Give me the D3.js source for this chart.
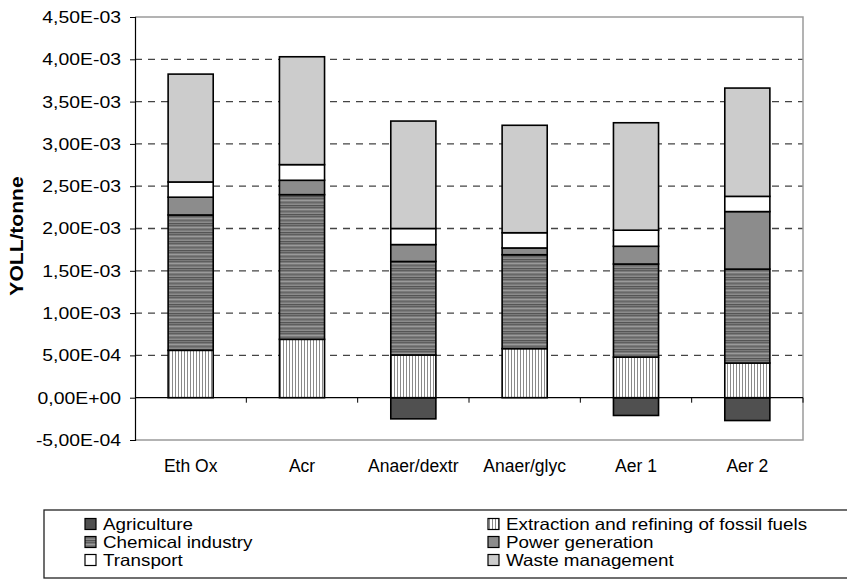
<!DOCTYPE html>
<html><head><meta charset="utf-8">
<script src="https://cdn.jsdelivr.net/npm/d3@7"></script>
<style>
body{margin:0;background:#fff;}
svg{display:block;font-family:"Liberation Sans",Arial,sans-serif;}
</style></head><body>
<svg id="chart" width="847" height="580"></svg>
<script>
const categories = ["Eth Ox","Acr","Anaer/dextr","Anaer/glyc","Aer 1","Aer 2"];
const agriculture = [0, 0, -2.5e-4, 0, -2.1e-4, -2.7e-4];
const extraction  = [5.6e-4, 6.9e-4, 5.05e-4, 5.8e-4, 4.8e-4, 4.1e-4];
const chemical    = [1.60e-3, 1.71e-3, 1.105e-3, 1.11e-3, 1.10e-3, 1.11e-3];
const power       = [2.1e-4, 1.7e-4, 2.0e-4, 8e-5, 2.1e-4, 6.8e-4];
const transport   = [1.8e-4, 1.85e-4, 1.9e-4, 1.8e-4, 1.9e-4, 1.8e-4];
const waste       = [1.275e-3, 1.275e-3, 1.27e-3, 1.27e-3, 1.27e-3, 1.28e-3];
const seriesNames = ["Agriculture","Extraction and refining of fossil fuels","Chemical industry","Power generation","Transport","Waste management"];
const yTicks = [-5e-4,0,5e-4,1e-3,1.5e-3,2e-3,2.5e-3,3e-3,3.5e-3,4e-3,4.5e-3];
const yLabel = "YOLL/tonne";

const svg = d3.select("#chart");
const defs = svg.append("defs");

// patterns
const pExt = defs.append("pattern").attr("id","pExt").attr("patternUnits","userSpaceOnUse").attr("width",3).attr("height",4);
pExt.append("rect").attr("width",3).attr("height",4).attr("fill","#ffffff");
pExt.append("rect").attr("x",1).attr("width",1).attr("height",4).attr("fill","#8a8a8a");

const pChem = defs.append("pattern").attr("id","pChem").attr("patternUnits","userSpaceOnUse").attr("width",4).attr("height",9);
pChem.append("rect").attr("width",4).attr("height",9).attr("fill","#7a7a7a");
[[0,"#5e5e5e"],[2,"#9a9a9a"],[4,"#686868"],[6,"#8c8c8c"],[7,"#555555"]].forEach(([y,c])=>{
  pChem.append("rect").attr("y",y).attr("width",4).attr("height",1).attr("fill",c);
});

const fills = {
  "Agriculture":"#505050",
  "Extraction and refining of fossil fuels":"url(#pExt)",
  "Chemical industry":"url(#pChem)",
  "Power generation":"#8c8c8c",
  "Transport":"#ffffff",
  "Waste management":"#cccccc"
};

const L = 135, R = 803, T = 17, B = 440;
const x = d3.scaleBand().domain(categories).range([L,R]).paddingInner(0.595).paddingOuter(0.2975);
const xb = d3.scaleBand().domain(categories).range([L,R]).padding(0);
const y = d3.scaleLinear().domain([-5e-4,4.5e-3]).range([B,T]);

const fmt = v => {
  let s = v.toExponential(2);
  let [m,e] = s.split("e");
  let sign = e[0]==="-" ? "-" : "+";
  let n = Math.abs(parseInt(e,10));
  if (v===0) { sign = "+"; n = 0; }
  return m.replace(".",",") + "E" + sign + String(n).padStart(2,"0");
};

// gridlines
svg.append("g").selectAll("line").data(yTicks.filter(v=>v>0 && v<4.5e-3)).join("line")
  .attr("x1",L).attr("x2",R).attr("y1",d=>y(d)).attr("y2",d=>y(d))
  .attr("stroke","#444").attr("stroke-width",1.3).attr("stroke-dasharray","7,6");

// frame (gray)
svg.append("path").attr("d",`M${L},${T}H${R}V${B}H${L}`).attr("fill","none").attr("stroke","#9a9a9a").attr("stroke-width",1.5);

// stacked bars
const series = [
  {name:"Agriculture", vals:agriculture},
  {name:"Extraction and refining of fossil fuels", vals:extraction},
  {name:"Chemical industry", vals:chemical},
  {name:"Power generation", vals:power},
  {name:"Transport", vals:transport},
  {name:"Waste management", vals:waste}
];
const segs = [];
categories.forEach((c,i)=>{
  let pos = 0, neg = 0;
  series.forEach(s=>{
    const v = s.vals[i];
    if (v === 0) return;
    if (v > 0) { segs.push({c, name:s.name, y0:pos, y1:pos+v}); pos += v; }
    else { segs.push({c, name:s.name, y0:neg+v, y1:neg}); neg += v; }
  });
});
svg.append("g").selectAll("rect").data(segs).join("rect")
  .attr("x",d=>x(d.c)).attr("width",x.bandwidth())
  .attr("y",d=>y(d.y1)).attr("height",d=>y(d.y0)-y(d.y1))
  .attr("fill",d=>fills[d.name]).attr("stroke","#000").attr("stroke-width",1.6);

// zero line with category ticks
svg.append("line").attr("x1",L).attr("x2",R).attr("y1",y(0)).attr("y2",y(0)).attr("stroke","#000").attr("stroke-width",1.2);
svg.append("g").selectAll("line").data(categories.slice(1).concat(["__end"])).join("line")
  .attr("x1",(d,i)=> i<categories.length-1 ? xb(d) : R)
  .attr("x2",(d,i)=> i<categories.length-1 ? xb(d) : R)
  .attr("y1",y(0)).attr("y2",y(0)+5).attr("stroke","#000").attr("stroke-width",1);

// y axis
const yAxis = d3.axisLeft(y).tickValues(yTicks).tickFormat(fmt).tickSize(5).tickPadding(9);
const ga = svg.append("g").attr("transform",`translate(${L},0)`).call(yAxis);
ga.select(".domain").attr("stroke","#000").attr("stroke-width",1.2);
ga.selectAll(".tick line").attr("stroke","#000");
ga.selectAll("text").attr("font-size",17).attr("fill","#000").attr("font-family","Liberation Sans, Arial, sans-serif")
  .each(function(){ const w = this.getComputedTextLength(); d3.select(this).attr("textLength", w*1.14).attr("lengthAdjust","spacingAndGlyphs"); });

// x labels
svg.append("g").selectAll("text").data(categories).join("text")
  .attr("x",d=>x(d)+x.bandwidth()/2).attr("y",472).attr("text-anchor","middle")
  .attr("font-size",17.5).text(d=>d);

// y label
const yl = svg.append("text").attr("transform","translate(23,236) rotate(-90)").attr("text-anchor","middle")
  .attr("font-size",18).attr("font-weight","bold").text(yLabel);
yl.attr("textLength", yl.node().getComputedTextLength()*1.17).attr("lengthAdjust","spacingAndGlyphs");

// legend
svg.append("rect").attr("x",44).attr("y",510).attr("width",820).attr("height",68)
  .attr("fill","none").attr("stroke","#222").attr("stroke-width",1.3);
const legOrder = ["Agriculture","Extraction and refining of fossil fuels","Chemical industry","Power generation","Transport","Waste management"];
const lg = svg.append("g").selectAll("g").data(legOrder).join("g")
  .attr("transform",(d,i)=>`translate(${i%2===0?85:488},${524+Math.floor(i/2)*18})`);
lg.append("rect").attr("x",0).attr("y",-5.5).attr("width",11).attr("height",11)
  .attr("fill",d=>fills[d]).attr("stroke","#000").attr("stroke-width",1.2);
lg.append("text").attr("x",18).attr("y",6).attr("font-size",16.5).text(d=>d)
  .each(function(){ const w = this.getComputedTextLength(); d3.select(this).attr("textLength", w*1.14).attr("lengthAdjust","spacingAndGlyphs"); });
</script>
</body></html>
